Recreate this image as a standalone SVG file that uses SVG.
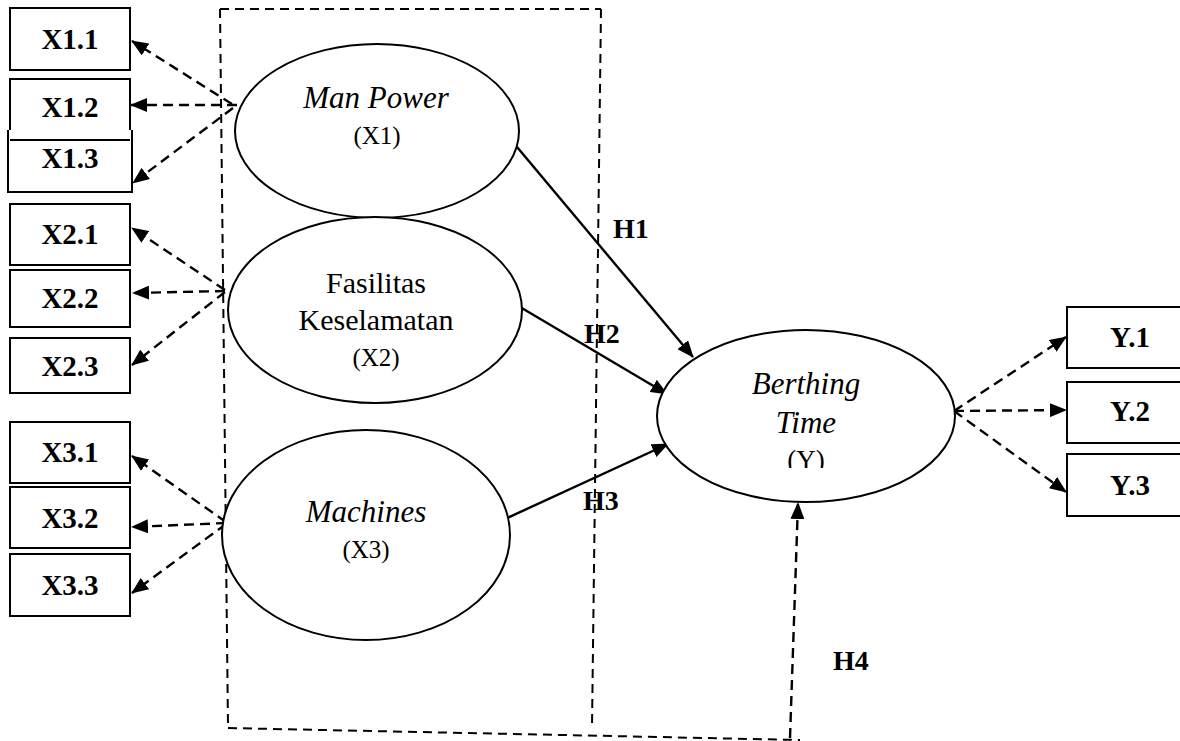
<svg xmlns="http://www.w3.org/2000/svg" width="1180" height="741" viewBox="0 0 1180 741">
<style>
.box{fill:#fff;stroke:#000;stroke-width:2}
.ell{fill:#fff;stroke:#000;stroke-width:2}
.bl{font-family:"Liberation Serif","Times New Roman",serif;font-weight:bold;font-size:29px;text-anchor:middle}
.it{font-family:"Liberation Serif","Times New Roman",serif;font-style:italic;font-size:31px;text-anchor:middle}
.rg{font-family:"Liberation Serif","Times New Roman",serif;font-size:30px;text-anchor:middle}
.sub{font-family:"Liberation Serif","Times New Roman",serif;font-size:25px;text-anchor:middle}
.hl{font-family:"Liberation Serif","Times New Roman",serif;font-weight:bold;font-size:28px}
.dash{fill:none;stroke:#000;stroke-width:2.4;stroke-dasharray:10 6}
.frame{fill:none;stroke:#000;stroke-width:2;stroke-dasharray:9 6}
.solid{fill:none;stroke:#000;stroke-width:2.4}
</style>
<defs>
<marker id="ah" markerUnits="userSpaceOnUse" markerWidth="17" markerHeight="14" refX="16" refY="7" orient="auto">
<path d="M0,0 L17,7 L0,14 z" fill="#000"/>
</marker>
<clipPath id="yclip"><rect x="700" y="300" width="200" height="168"/></clipPath>
</defs>

<g id="frame">
<path class="frame" d="M220,9 L601,9"/>
<path class="frame" d="M220,9 L228,727"/>
<path class="frame" d="M601,9 L592,727"/>
<path class="frame" d="M228,728 L800,740"/>
</g>

<g id="connectors">
<path class="dash" d="M232,104 L132,41" marker-end="url(#ah)"/>
<path class="dash" d="M237,105 L131,105" marker-end="url(#ah)"/>
<path class="dash" d="M233,108 L133,183" marker-end="url(#ah)"/>
<path class="dash" d="M225,290 L132,228" marker-end="url(#ah)"/>
<path class="dash" d="M225,291 L133,293" marker-end="url(#ah)"/>
<path class="dash" d="M225,292 L132,365" marker-end="url(#ah)"/>
<path class="dash" d="M226,522 L132,456" marker-end="url(#ah)"/>
<path class="dash" d="M226,523 L132,527" marker-end="url(#ah)"/>
<path class="dash" d="M226,524 L132,593" marker-end="url(#ah)"/>
<path class="dash" d="M954,411 L1066,337" marker-end="url(#ah)"/>
<path class="dash" d="M954,411 L1066,410" marker-end="url(#ah)"/>
<path class="dash" d="M954,411 L1066,492" marker-end="url(#ah)"/>
<path class="solid" d="M517,147 L693,357" marker-end="url(#ah)"/>
<path class="solid" d="M515,304 L667,394" marker-end="url(#ah)"/>
<path class="solid" d="M505,519 L668,444" marker-end="url(#ah)"/>
<path class="dash" d="M790,738 L798,503" marker-end="url(#ah)"/>
</g>

<g id="X1.1"><rect class="box" x="10" y="8" width="120" height="62"/><text class="bl" x="70" y="49">X1.1</text></g>
<g id="X1.2"><rect class="box" x="10" y="79" width="120" height="61"/><text class="bl" x="70" y="117">X1.2</text></g>
<g id="X1.3"><path class="box" d="M8,130 L8,192 L132,192 L132,130" /><path d="M10,140 L130,140" stroke="#000" stroke-width="2"/><text class="bl" x="70" y="168">X1.3</text></g>
<g id="X2.1"><rect class="box" x="10" y="204" width="120" height="61"/><text class="bl" x="70" y="244">X2.1</text></g>
<g id="X2.2"><rect class="box" x="10" y="270" width="120" height="57"/><text class="bl" x="70" y="308">X2.2</text></g>
<g id="X2.3"><rect class="box" x="10" y="338" width="120" height="55"/><text class="bl" x="70" y="376">X2.3</text></g>
<g id="X3.1"><rect class="box" x="10" y="422" width="120" height="61"/><text class="bl" x="70" y="462">X3.1</text></g>
<g id="X3.2"><rect class="box" x="10" y="487" width="120" height="61"/><text class="bl" x="70" y="528">X3.2</text></g>
<g id="X3.3"><rect class="box" x="10" y="554" width="120" height="62"/><text class="bl" x="70" y="595">X3.3</text></g>

<g id="Y.1"><rect class="box" x="1067" y="307" width="125" height="61"/><text class="bl" x="1130" y="347">Y.1</text></g>
<g id="Y.2"><rect class="box" x="1067" y="382" width="125" height="61"/><text class="bl" x="1130" y="421">Y.2</text></g>
<g id="Y.3"><rect class="box" x="1067" y="454" width="125" height="62"/><text class="bl" x="1130" y="495">Y.3</text></g>

<g id="X1"><ellipse class="ell" cx="377" cy="131" rx="142" ry="87"/><text class="it" x="376" y="108">Man Power</text><text class="sub" x="377" y="144">(X1)</text></g>
<g id="X2"><ellipse class="ell" cx="375" cy="310" rx="147" ry="93"/><text class="rg" x="376" y="293">Fasilitas</text><text class="rg" x="376" y="330">Keselamatan</text><text class="sub" x="376" y="366">(X2)</text></g>
<g id="X3"><ellipse class="ell" cx="366" cy="535" rx="144" ry="105"/><text class="it" x="366" y="522">Machines</text><text class="sub" x="366" y="558">(X3)</text></g>
<g id="Y"><ellipse class="ell" cx="806" cy="416" rx="149" ry="86"/><text class="it" x="806" y="394">Berthing</text><text class="it" x="806" y="433">Time</text><text class="sub" x="806" y="469" clip-path="url(#yclip)" style="font-size:27px">(Y)</text></g>

<g id="labels">
<text class="hl" x="613" y="238">H1</text>
<text class="hl" x="584" y="343">H2</text>
<text class="hl" x="583" y="510">H3</text>
<text class="hl" x="833" y="670">H4</text>
</g>
</svg>
